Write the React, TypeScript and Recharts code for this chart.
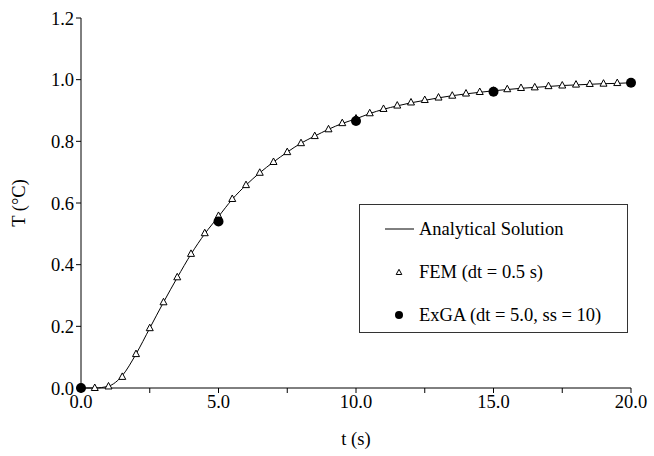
import React from "react"
import { ComposedChart, Line, XAxis, YAxis } from "recharts"

// time steps (s)
const fineTimes = [
  0, 0.5, 1, 1.5, 2, 2.5, 3, 3.5, 4, 4.5, 5, 5.5, 6, 6.5, 7, 7.5, 8, 8.5, 9, 9.5,
  10, 10.5, 11, 11.5, 12, 12.5, 13, 13.5, 14, 14.5, 15, 15.5, 16, 16.5, 17, 17.5,
  18, 18.5, 19, 19.5, 20,
]
const analyticalT = [
  0, 0.0, 0.006, 0.04, 0.11, 0.194, 0.278, 0.358, 0.434, 0.5, 0.556, 0.612, 0.658,
  0.698, 0.733, 0.765, 0.794, 0.817, 0.839, 0.858, 0.873, 0.89, 0.904, 0.915,
  0.925, 0.933, 0.941, 0.948, 0.954, 0.959, 0.964, 0.968, 0.972, 0.975, 0.978,
  0.981, 0.983, 0.985, 0.987, 0.988, 0.99,
]
const femT = [
  0, 0.0, 0.005, 0.036, 0.11, 0.194, 0.278, 0.359, 0.435, 0.502, 0.558, 0.613,
  0.658, 0.698, 0.733, 0.765, 0.794, 0.817, 0.839, 0.859, 0.874, 0.891, 0.905,
  0.916, 0.926, 0.934, 0.942, 0.948, 0.955, 0.96, 0.964, 0.969, 0.973, 0.975,
  0.979, 0.981, 0.984, 0.986, 0.987, 0.989, 0.99,
]
const exgaTimes = [0, 5, 10, 15, 20]
const exgaT = [0, 0.54, 0.866, 0.961, 0.99]

const xTicks = [0, 2.5, 5, 7.5, 10, 12.5, 15, 17.5, 20]
const yTicks = [0, 0.2, 0.4, 0.6, 0.8, 1.0, 1.2]

const analytical = fineTimes.map((t, i) => ({ t, T: analyticalT[i] }))
const fem = fineTimes.map((t, i) => ({ t, T: femT[i] }))
const exga = exgaTimes.map((t, i) => ({ t, T: exgaT[i] }))

const font = "Liberation Serif, Times New Roman, Tinos, DejaVu Serif, serif"
const fs = 18.5

const Triangle = (props: any) => {
  const { cx, cy, s = 1 } = props
  if (cx == null || cy == null) return null
  return (
    <polygon
      points={`${cx},${cy - 4 * s} ${cx - 3.5 * s},${cy + 2.5 * s} ${cx + 3.5 * s},${cy + 2.5 * s}`}
      fill="#fff"
      stroke="#000"
      strokeWidth={1}
    />
  )
}

const Dot = (props: any) => {
  const { cx, cy } = props
  if (cx == null || cy == null) return null
  return <circle cx={cx} cy={cy} r={5} fill="#000" />
}

export default function App() {
  return (
    <div style={{ position: "relative", width: 654, height: 456, fontFamily: font }}>
      <style>{`body{margin:0}`}</style>
      <ComposedChart
        width={654}
        height={456}
        margin={{ top: 18, right: 23, left: 0, bottom: 0 }}
        style={{ fontFamily: font }}
      >
        <XAxis
          dataKey="t"
          type="number"
          domain={[0, 20]}
          ticks={xTicks}
          interval={0}
          height={68}
          tickSize={5}
          tickFormatter={(v: number) => (v % 5 === 0 ? v.toFixed(1) : "")}
          tick={{ fill: "#000", fontSize: fs, fontFamily: font }}
          axisLine={{ stroke: "#000" }}
          tickLine={{ stroke: "#000" }}
          label={{
            value: "t (s)",
            position: "insideBottom",
            offset: 11,
            fill: "#000",
            fontSize: fs,
            fontFamily: font,
          }}
        />
        <YAxis
          type="number"
          domain={[0, 1.2]}
          ticks={yTicks}
          interval={0}
          width={81}
          tickSize={5}
          tickFormatter={(v: number) => v.toFixed(1)}
          tick={{ fill: "#000", fontSize: fs, fontFamily: font }}
          axisLine={{ stroke: "#000" }}
          tickLine={{ stroke: "#000" }}
          label={{
            value: "T (°C)",
            angle: -90,
            position: "insideLeft",
            offset: 18,
            fill: "#000",
            fontSize: fs,
            fontFamily: font,
            style: { textAnchor: "middle" },
          }}
        />
        <Line
          data={analytical}
          dataKey="T"
          type="monotone"
          stroke="#000"
          strokeWidth={1}
          dot={false}
          isAnimationActive={false}
        />
        <Line
          data={fem}
          dataKey="T"
          stroke="none"
          dot={<Triangle />}
          activeDot={false}
          isAnimationActive={false}
        />
        <Line
          data={exga}
          dataKey="T"
          stroke="none"
          dot={<Dot />}
          activeDot={false}
          isAnimationActive={false}
        />
      </ComposedChart>
      <div
        style={{
          position: "absolute",
          left: 359,
          top: 204,
          width: 267,
          height: 127,
          border: "1px solid #333",
          background: "#fff",
          fontSize: fs,
          color: "#000",
        }}
      >
        {[
          { label: "Analytical Solution", kind: "line" },
          { label: "FEM (dt = 0.5 s)", kind: "tri" },
          { label: "ExGA (dt = 5.0, ss = 10)", kind: "dot" },
        ].map((e, i) => (
          <div
            key={e.label}
            style={{
              position: "absolute",
              left: 0,
              top: 12 + i * 43,
              height: 24,
              display: "flex",
              alignItems: "center",
              whiteSpace: "nowrap",
            }}
          >
            <svg width={58} height={24} style={{ display: "block" }}>
              {e.kind === "line" && <line x1={25} x2={54} y1={12} y2={12} stroke="#000" />}
              {e.kind === "tri" && <Triangle cx={39} cy={12.5} s={0.8} />}
              {e.kind === "dot" && <circle cx={39} cy={12} r={4} fill="#000" />}
            </svg>
            <span style={{ marginLeft: 1 }}>{e.label}</span>
          </div>
        ))}
      </div>
    </div>
  )
}
